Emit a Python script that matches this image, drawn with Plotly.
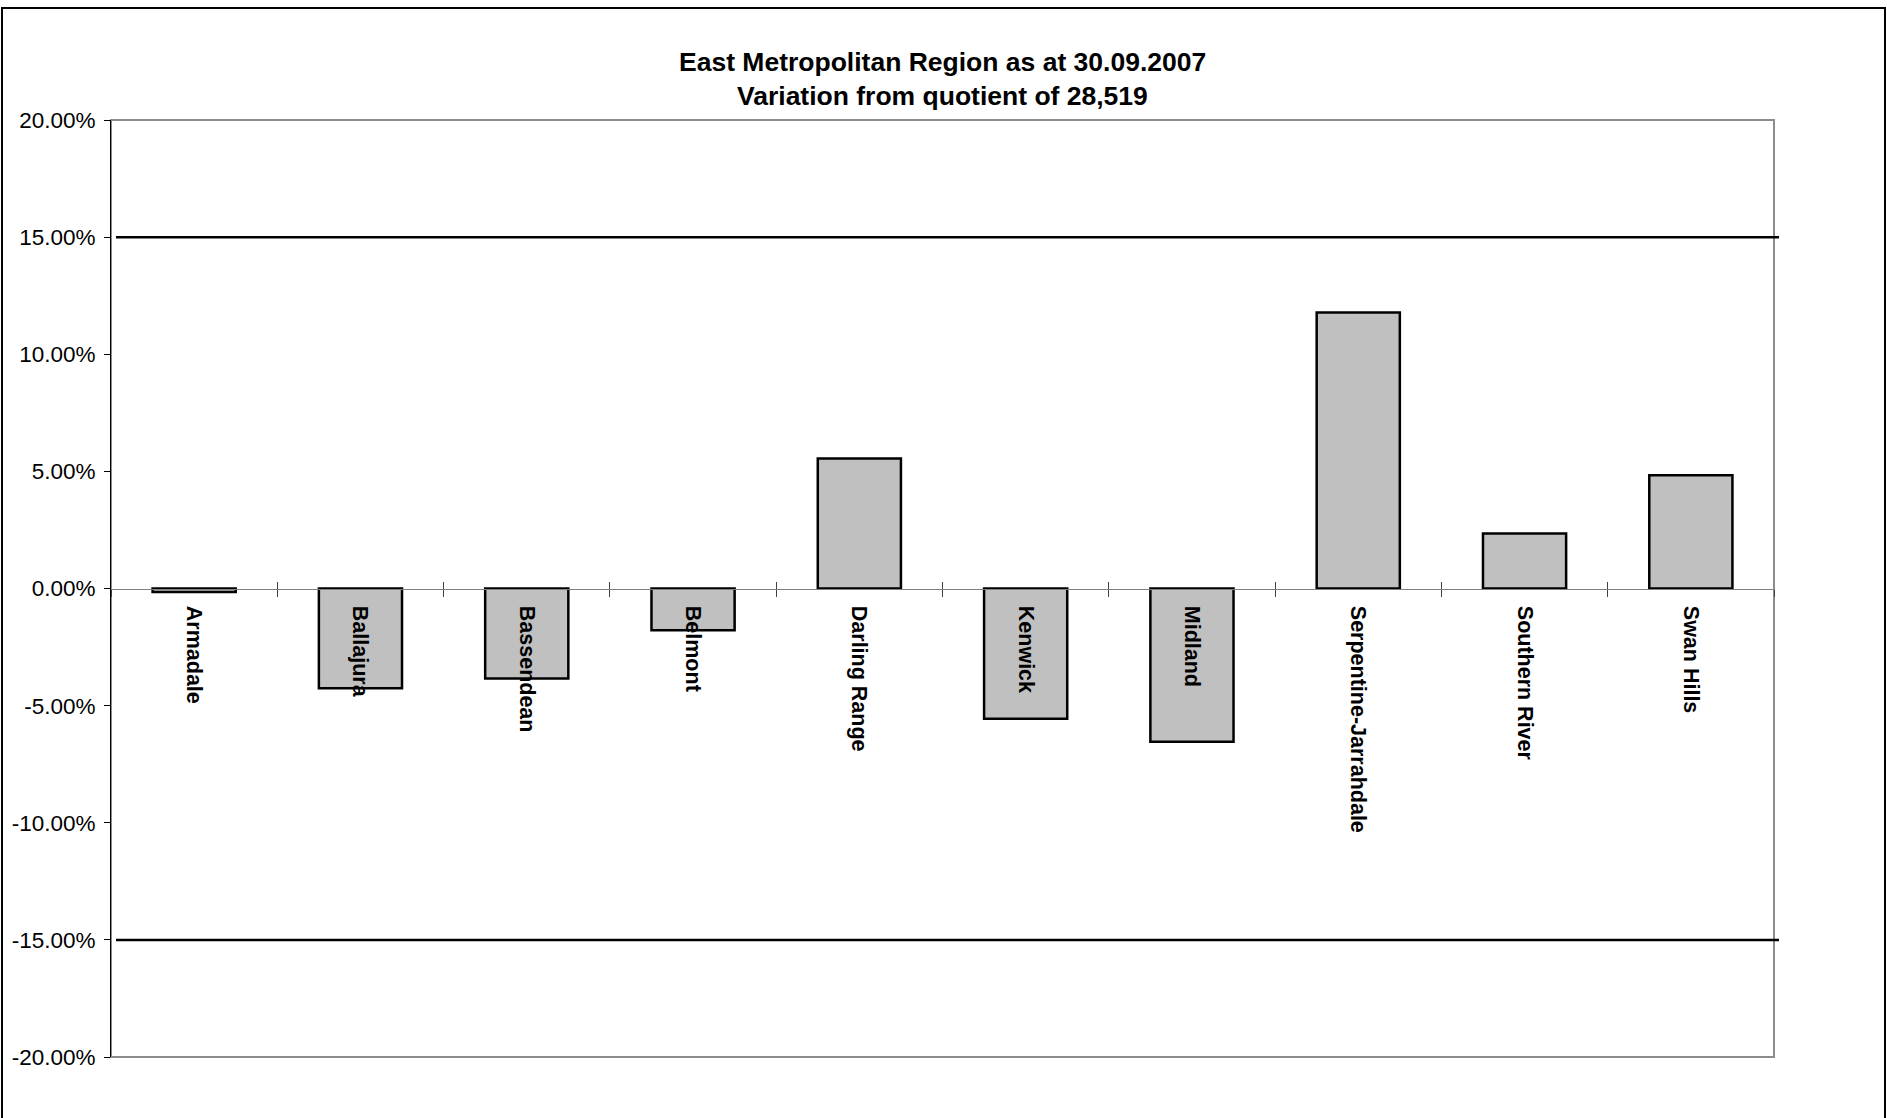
import plotly.graph_objects as go

# ---- data ----
categories = ["Armadale", "Ballajura", "Bassendean", "Belmont", "Darling Range",
              "Kenwick", "Midland", "Serpentine-Jarrahdale", "Southern River", "Swan Hills"]
variation_pct = [-0.15, -4.26, -3.84, -1.78, 5.55, -5.56, -6.54, 11.78, 2.35, 4.83]
tolerance_pct = [15, -15]
y_tick_vals = [20, 15, 10, 5, 0, -5, -10, -15, -20]
y_tick_text = [f"{v:.2f}%" for v in y_tick_vals]
title_lines = ["East Metropolitan Region as at 30.09.2007", "Variation from quotient of 28,519"]

# ---- layout geometry (pixels) ----
W, H = 1887, 1118
L, R, T, B = 111, 113, 120, 61
pw, ph = W - L - R, H - T - B

def px_x(x):
    return (x - L) / pw

def px_y(y):
    return (H - B - y) / ph

FONT = "Liberation Sans, Arial, sans-serif"

fig = go.Figure()
fig.add_trace(go.Bar(
    x=categories, y=variation_pct,
    marker=dict(color="#c0c0c0", line=dict(color="#000000", width=2.5)),
    width=0.5, showlegend=False, hoverinfo="x+y",
))
# dummy trace so the overlay axis (inside ticks) is drawn
fig.add_trace(go.Bar(
    x=categories, y=[None] * len(categories), xaxis="x2",
    showlegend=False, hoverinfo="skip",
))

shapes = []
# tolerance lines
for v in tolerance_pct:
    shapes.append(dict(type="line", xref="paper", yref="y", x0=0.003, x1=1.003, y0=v, y1=v,
                       line=dict(color="#000000", width=2.5), layer="above"))
# plot-area frame (gray)
shapes.append(dict(type="rect", xref="paper", yref="paper", x0=0, x1=1, y0=0, y1=1,
                   line=dict(color="#8c8c8c", width=2), layer="below"))
# outer chart border
shapes.append(dict(type="rect", xref="paper", yref="paper",
                   x0=px_x(2), x1=px_x(1885), y0=px_y(1125), y1=px_y(8),
                   line=dict(color="#000000", width=2), layer="below"))

annotations = [
    dict(text=title_lines[0], xref="paper", yref="paper", x=0.5, y=px_y(62),
         showarrow=False, xanchor="center", yanchor="middle",
         font=dict(family=FONT, size=26.5, color="#000000", weight="bold")),
    dict(text=title_lines[1], xref="paper", yref="paper", x=0.5, y=px_y(96),
         showarrow=False, xanchor="center", yanchor="middle",
         font=dict(family=FONT, size=26.5, color="#000000", weight="bold")),
]

fig.update_layout(
    width=W, height=H,
    margin=dict(l=L, r=R, t=T, b=B, pad=0),
    paper_bgcolor="#ffffff", plot_bgcolor="#ffffff",
    font=dict(family=FONT, color="#000000"),
    showlegend=False,
    bargap=0.5,
    shapes=shapes,
    annotations=annotations,
    xaxis=dict(
        type="category", categoryorder="array", categoryarray=categories,
        range=[-0.5, len(categories) - 0.5],
        anchor="free", position=0.5,
        showline=True, linecolor="#808080", linewidth=1,
        showgrid=False, zeroline=False,
        ticks="outside", ticklen=7, tickwidth=1, tickcolor="#404040",
        tickson="boundaries",
        tickangle=90,
        ticklabelstandoff=12,
        tickfont=dict(family=FONT, size=21.5, color="#000000", weight="bold"),
    ),
    xaxis2=dict(
        type="category", categoryorder="array", categoryarray=categories,
        matches="x", overlaying="x",
        anchor="free", position=0.5, side="bottom",
        showline=False, showgrid=False, zeroline=False,
        ticks="inside", ticklen=7, tickwidth=1, tickcolor="#404040",
        tickson="boundaries", showticklabels=False,
    ),
    yaxis=dict(
        range=[-20, 20],
        tickvals=y_tick_vals, ticktext=y_tick_text,
        showline=True, linecolor="#000000", linewidth=1,
        showgrid=False, zeroline=False,
        ticks="outside", ticklen=6, tickwidth=1, tickcolor="#000000",
        ticklabelstandoff=4,
        tickfont=dict(family=FONT, size=22.5, color="#000000"),
    ),
)

fig.write_html(
    "out.html",
    config={"displayModeBar": False},
    post_script="document.body.style.margin='0';document.body.style.overflow='hidden';",
)
